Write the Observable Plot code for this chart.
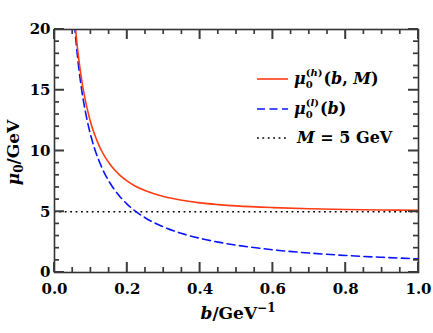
<!DOCTYPE html>
<html>
<head>
<meta charset="utf-8">
<script src="https://cdn.jsdelivr.net/npm/d3@7"></script>
<script src="https://cdn.jsdelivr.net/npm/@observablehq/plot@0.6"></script>
<style>
  html, body { margin: 0; padding: 0; background: #fff; }
</style>
</head>
<body>
<div id="chart"></div>
<script>
// b in GeV^-1
const bValues = [0.05, 0.055, 0.06, 0.065, 0.07, 0.075, 0.08, 0.09, 0.1, 0.11, 0.12, 0.13, 0.14, 0.15, 0.16, 0.18, 0.2, 0.22, 0.25, 0.3, 0.35, 0.4, 0.45, 0.5, 0.6, 0.7, 0.8, 0.9, 1.0];
// mu0^(h)(b, M) in GeV
const muHeavy = [23.01, 21.02, 19.38, 17.99, 16.80, 15.78, 14.90, 13.45, 12.29, 11.37, 10.61, 9.98, 9.45, 9.01, 8.62, 7.99, 7.52, 7.14, 6.72, 6.25, 5.94, 5.73, 5.59, 5.48, 5.34, 5.25, 5.19, 5.15, 5.12];
// mu0^(l)(b) in GeV
const muLight = [22.46, 20.42, 18.72, 17.28, 16.04, 14.97, 14.04, 12.48, 11.23, 10.21, 9.36, 8.64, 8.02, 7.49, 7.02, 6.24, 5.61, 5.10, 4.49, 3.74, 3.21, 2.81, 2.50, 2.25, 1.87, 1.60, 1.40, 1.25, 1.12];
const massM = 5;

const xMajor = [0, 0.2, 0.4, 0.6, 0.8, 1.0];
const xMinor = [0.05, 0.1, 0.15, 0.25, 0.3, 0.35, 0.45, 0.5, 0.55, 0.65, 0.7, 0.75, 0.85, 0.9, 0.95];
const yMajor = [0, 5, 10, 15, 20];
const yMinor = [1, 2, 3, 4, 6, 7, 8, 9, 11, 12, 13, 14, 16, 17, 18, 19];
const xDomain = [0, 1], yDomain = [0, 20];

const heavy = bValues.map((b, i) => ({b, mu: muHeavy[i]}));
const light = bValues.map((b, i) => ({b, mu: muLight[i]}));

const W = 433, H = 333, mL = 54, mR = 15, mT = 29, mB = 61;
const pw = W - mL - mR, ph = H - mT - mB;
const tickCol = "#3a3a3a";
const majL = 10, minL = 5; // tick lengths in px
const redCol = "#ff3c14", blueCol = "#0a14ff";
const blueDash = "8,4.5", dotDash = "1.8,3.6";

const chart = Plot.plot({
  width: W, height: H,
  marginLeft: mL, marginRight: mR, marginTop: mT, marginBottom: mB,
  x: {domain: xDomain},
  y: {domain: yDomain},
  style: {fontFamily: "DejaVu Serif", fontWeight: "bold", fontSize: "15px", color: "#000", background: "#fff"},
  marks: [
    Plot.ruleY([massM], {stroke: "#000", strokeWidth: 1.6, strokeDasharray: dotDash}),
    Plot.line(light, {x: "b", y: "mu", stroke: blueCol, strokeWidth: 1.6, strokeDasharray: blueDash, curve: "monotone-x", clip: true}),
    Plot.line(heavy, {x: "b", y: "mu", stroke: redCol, strokeWidth: 1.6, curve: "monotone-x", clip: true}),
    Plot.frame({stroke: "#333", strokeWidth: 1.6}),
    Plot.axisX({ticks: xMajor, tickSize: 0, tickPadding: 11, tickFormat: d3.format(".1f"), label: null, fontSize: 15, fontWeight: "bold"}),
    Plot.axisY({ticks: yMajor, tickSize: 0, tickPadding: 4, label: null, fontSize: 15, fontWeight: "bold"})
  ]
});

const svg = d3.select(chart);
const serif = "DejaVu Serif";
const sx = v => chart.scale("x").apply(v);
const sy = v => chart.scale("y").apply(v);
const x0 = sx(xDomain[0]), x1 = sx(xDomain[1]);
const y0 = sy(yDomain[0]), y1 = sy(yDomain[1]);

// inward ticks on all four sides, positioned through Plot's scales
const tg = svg.append("g");
const seg = (ax, ay, bx, by, sw) => tg.append("line")
  .attr("x1", ax).attr("y1", ay).attr("x2", bx).attr("y2", by)
  .attr("stroke", tickCol).attr("stroke-width", sw);
const addV = (vals, len, sw) => vals.forEach(v => {
  const px = sx(v);
  seg(px, y0, px, y0 - len, sw);
  seg(px, y1, px, y1 + len, sw);
});
const addH = (vals, len, sw) => vals.forEach(v => {
  const py = sy(v);
  seg(x0, py, x0 + len, py, sw);
  seg(x1, py, x1 - len, py, sw);
});
addV(xMajor, majL, 2);
addV(xMinor, minL, 1.7);
addH(yMajor, majL, 2);
addH(yMinor, minL, 1.7);

// x axis label: b/GeV^-1
const xl = svg.append("text")
  .attr("x", mL + pw / 2 + 2).attr("y", 319)
  .attr("text-anchor", "middle")
  .attr("font-family", serif).attr("font-weight", "bold").attr("font-size", 17).attr("fill", "#000");
xl.append("tspan").attr("font-style", "italic").text("b");
xl.append("tspan").text("/GeV");
xl.append("tspan").attr("dy", -7).attr("font-size", 12).text("−1");

// y axis label: mu_0/GeV
const yl = svg.append("text")
  .attr("transform", `translate(19,${mT + ph / 2 + 2}) rotate(-90)`)
  .attr("text-anchor", "middle")
  .attr("font-family", serif).attr("font-weight", "bold").attr("font-size", 17).attr("fill", "#000");
yl.append("tspan").attr("font-style", "italic").text("μ");
yl.append("tspan").attr("dy", 4).attr("font-size", 12).text("0");
yl.append("tspan").attr("dy", -4).text("/GeV");

// legend
const leg = svg.append("g").attr("font-family", serif).attr("font-weight", "bold").attr("fill", "#000").attr("text-anchor", "start");
const lx0 = 257, lx1 = 288, tx = 294;
const rows = [
  {y: 79, stroke: redCol, dash: null},
  {y: 109, stroke: blueCol, dash: blueDash},
  {y: 138, stroke: "#000", dash: dotDash}
];
rows.forEach(r => {
  const ln = leg.append("line").attr("x1", lx0).attr("x2", lx1).attr("y1", r.y).attr("y2", r.y)
    .attr("stroke", r.stroke).attr("stroke-width", 1.6);
  if (r.dash) ln.attr("stroke-dasharray", r.dash);
});
const fs = 16;
// row 1: mu_0^(h)(b, M)
let t = leg.append("text").attr("x", tx).attr("y", 84).attr("font-size", fs).attr("text-anchor", "start");
t.append("tspan").attr("font-style", "italic").text("μ");
t.append("tspan").attr("font-size", 10).attr("dy", 4).text("0");
t.append("tspan").attr("font-size", 10).attr("dx", -7).attr("dy", -12).text("(");
t.append("tspan").attr("font-size", 10).attr("font-style", "italic").text("h");
t.append("tspan").attr("font-size", 10).text(")");
t.append("tspan").attr("dy", 8).attr("dx", 1).text("(");
t.append("tspan").attr("font-style", "italic").text("b");
t.append("tspan").text(", ");
t.append("tspan").attr("font-style", "italic").text("M");
t.append("tspan").text(")");
// row 2: mu_0^(l)(b)
t = leg.append("text").attr("x", tx).attr("y", 114).attr("font-size", fs).attr("text-anchor", "start");
t.append("tspan").attr("font-style", "italic").text("μ");
t.append("tspan").attr("font-size", 10).attr("dy", 4).text("0");
t.append("tspan").attr("font-size", 10).attr("dx", -7).attr("dy", -12).text("(");
t.append("tspan").attr("font-size", 10).attr("font-style", "italic").text("l");
t.append("tspan").attr("font-size", 10).text(")");
t.append("tspan").attr("dy", 8).attr("dx", 1).text("(");
t.append("tspan").attr("font-style", "italic").text("b");
t.append("tspan").text(")");
// row 3: M = 5 GeV
t = leg.append("text").attr("x", tx + 3).attr("y", 143).attr("font-size", fs).attr("text-anchor", "start");
t.append("tspan").attr("font-style", "italic").text("M");
t.append("tspan").text(" = 5 GeV");

document.getElementById("chart").appendChild(chart);
</script>
</body>
</html>
